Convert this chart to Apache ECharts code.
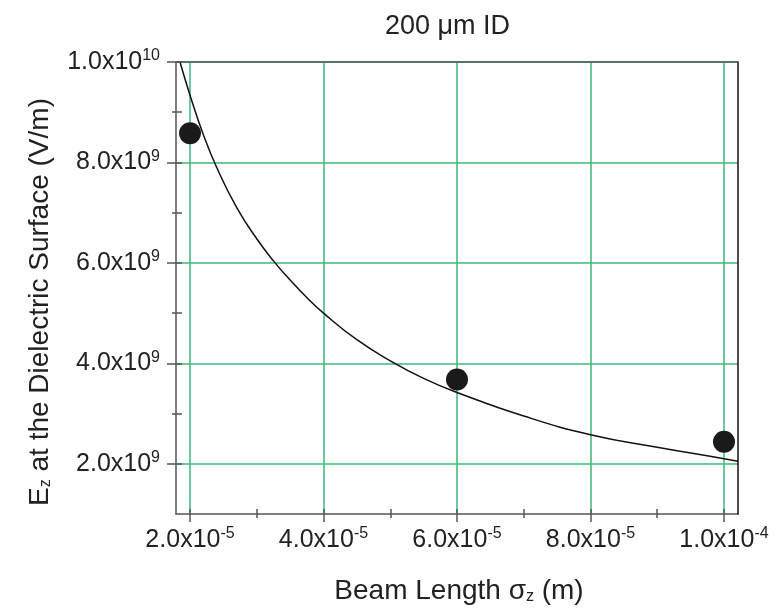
<!DOCTYPE html>
<html>
<head>
<meta charset="utf-8">
<script src="https://cdn.jsdelivr.net/npm/echarts@6/dist/echarts.min.js"></script>
<style>
  html, body { margin: 0; padding: 0; background: #fff; }
  #chart { width: 779px; height: 610px; }
</style>
</head>
<body>
<div id="chart"></div>
<script>
// fitted curve
const curveX = [1.85e-5, 2.0e-5, 2.2e-5, 2.4e-5, 2.7e-5, 3.0e-5, 3.25e-5, 3.5e-5, 3.75e-5, 4.0e-5, 4.5e-5, 5.0e-5, 5.5e-5, 6.0e-5, 7.0e-5, 8.0e-5, 9.0e-5, 1.0e-4, 1.021e-4]
const curveY = [1.0e10, 9.34e9, 8.55e9, 7.9e9, 7.1e9, 6.48e9, 6.04e9, 5.66e9, 5.31e9, 5.0e9, 4.47e9, 4.05e9, 3.7e9, 3.42e9, 2.95e9, 2.58e9, 2.33e9, 2.1e9, 2.05e9]

// measured points
const pointX = [2.0e-5, 6.0e-5, 1.0e-4]
const pointY = [8.58e9, 3.68e9, 2.44e9]

// axis ticks
const xMajor = [2e-5, 4e-5, 6e-5, 8e-5, 1e-4]
const xMinor = [3e-5, 5e-5, 7e-5, 9e-5]
const yMajor = [2e9, 4e9, 6e9, 8e9, 1e10]
const yMinor = [3e9, 5e9, 7e9, 9e9]

const xMin = 1.79e-5, xMax = 1.021e-4
const yMin = 1e9, yMax = 1e10

const FONT = '"Liberation Sans", Arial, sans-serif'
const GREEN = '#3cb878'
const AXIS = '#555'

// 2e-5 -> 2.0x10{sup|-5}
function sciLabel(v) {
  const exp = Math.floor(Math.log10(v) + 1e-9)
  const man = v / Math.pow(10, exp)
  return man.toFixed(1) + 'x10{sup|' + (exp < 0 ? '-' + (-exp) : exp) + '}'
}

const labelRich = {
  sup: { fontSize: 16, fontFamily: FONT, color: '#222', verticalAlign: 'top', padding: [0, 0, 12, 0] },
}
const subRich = {
  sub: { fontSize: 16, fontFamily: FONT, color: '#222', verticalAlign: 'bottom', padding: [10, 0, 0, 0] },
}

const chart = echarts.init(document.getElementById('chart'))

// main axis + extra axes used only for ticks / frame
function xAxes() {
  const base = { type: 'value', min: xMin, max: xMax, position: 'bottom', gridIndex: 0 }
  return [
    Object.assign({}, base, {
      axisLine: { show: true, lineStyle: { color: AXIS, width: 1.5 } },
      axisTick: { show: true, length: 8, customValues: xMajor, lineStyle: { color: AXIS, width: 1.5 } },
      axisLabel: {
        show: true, customValues: xMajor, margin: 12,
        fontSize: 25, fontFamily: FONT, color: '#222',
        formatter: sciLabel, rich: labelRich,
      },
      splitLine: { show: true, lineStyle: { color: GREEN, width: 1.5 } },
      name: 'Beam Length σ{sub|z} (m)',
      nameLocation: 'middle',
      nameGap: 63,
      nameTextStyle: { fontSize: 28, fontFamily: FONT, color: '#222', padding: [0, 0, 0, 4], rich: subRich },
    }),
    Object.assign({}, base, {
      axisLine: { show: false },
      axisTick: { show: true, inside: true, length: 5, customValues: xMajor.concat(xMinor), lineStyle: { color: AXIS, width: 1.5 } },
      axisLabel: { show: false },
      splitLine: { show: false },
    }),
    Object.assign({}, base, {
      axisLine: { show: false },
      axisTick: { show: true, length: 4, customValues: xMinor, lineStyle: { color: AXIS, width: 1.5 } },
      axisLabel: { show: false },
      splitLine: { show: false },
    }),
    Object.assign({}, base, {
      position: 'top', z: 5,
      axisLine: { show: true, onZero: false, lineStyle: { color: AXIS, width: 1.5 } },
      axisTick: { show: false },
      axisLabel: { show: false },
      splitLine: { show: false },
    }),
  ]
}

function yAxes() {
  const base = { type: 'value', min: yMin, max: yMax, position: 'left', gridIndex: 0 }
  return [
    Object.assign({}, base, {
      axisLine: { show: true, lineStyle: { color: AXIS, width: 1.5 } },
      axisTick: { show: true, length: 9, customValues: yMajor, lineStyle: { color: AXIS, width: 1.5 } },
      axisLabel: {
        show: true, customValues: yMajor, margin: 16,
        fontSize: 25, fontFamily: FONT, color: '#222',
        formatter: sciLabel, rich: labelRich,
      },
      splitLine: { show: true, lineStyle: { color: GREEN, width: 1.5 } },
      name: 'E{sub|z} at the Dielectric Surface (V/m)',
      nameLocation: 'middle',
      nameGap: 122,
      nameTextStyle: { fontSize: 28, fontFamily: FONT, color: '#222', padding: [0, 28, 0, 0], rich: subRich },
    }),
    Object.assign({}, base, {
      axisLine: { show: false },
      axisTick: { show: true, inside: true, length: 6, customValues: yMajor.concat(yMinor), lineStyle: { color: AXIS, width: 1.5 } },
      axisLabel: { show: false },
      splitLine: { show: false },
    }),
    Object.assign({}, base, {
      axisLine: { show: false },
      axisTick: { show: true, length: 4, customValues: yMinor, lineStyle: { color: AXIS, width: 1.5 } },
      axisLabel: { show: false },
      splitLine: { show: false },
    }),
    Object.assign({}, base, {
      position: 'right', z: 5,
      axisLine: { show: true, onZero: false, lineStyle: { color: '#111', width: 1.5 } },
      axisTick: { show: false },
      axisLabel: { show: false },
      splitLine: { show: false },
    }),
  ]
}

const option = {
  backgroundColor: '#fff',
  animation: false,
  title: {
    text: '200 μm ID',
    left: 380,
    top: 8,
    textStyle: { fontSize: 27, fontWeight: 'normal', fontFamily: FONT, color: '#222' },
  },
  grid: { left: 176, right: 41, top: 62, bottom: 95 },
  xAxis: xAxes(),
  yAxis: yAxes(),
  series: [
    {
      name: 'fit',
      type: 'line',
      data: curveX.map((x, i) => [x, curveY[i]]),
      smooth: 0.5,
      showSymbol: false,
      lineStyle: { color: '#111', width: 1.5 },
      z: 3,
    },
    {
      name: 'points',
      type: 'scatter',
      data: pointX.map((x, i) => [x, pointY[i]]),
      symbol: 'circle',
      symbolSize: 22,
      itemStyle: { color: '#1a1a1a', opacity: 1 },
      z: 4,
    },
  ],
}

chart.setOption(option)
</script>
</body>
</html>
